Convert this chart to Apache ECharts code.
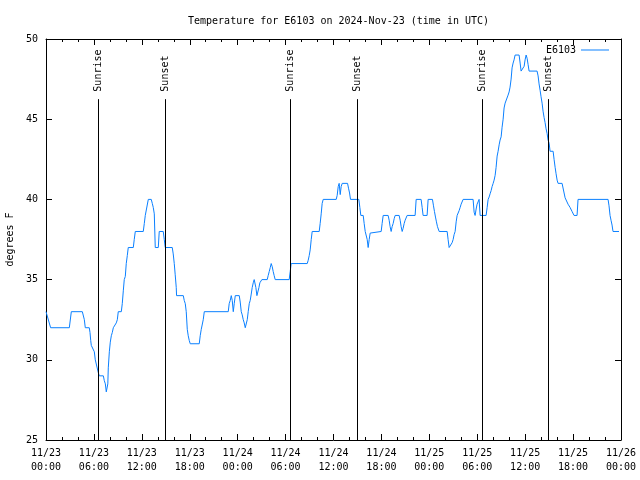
<!DOCTYPE html>
<html><head><meta charset="utf-8">
<script src="https://cdn.jsdelivr.net/npm/echarts@6/dist/echarts.min.js"></script>
<style>html,body{margin:0;padding:0;background:#fff}#c{width:640px;height:480px}</style>
</head><body><div id="c"></div>
<script>
// hours since 2024-11-23 00:00 UTC
const hours = [
0, 0.58, 2.92, 3.17, 4.55, 4.80, 4.92, 5.42, 5.51, 5.6, 5.67, 5.92, 6.05, 6.17, 6.42, 6.55, 6.67, 7.18, 7.30, 7.43, 7.55, 7.68, 7.74, 7.80, 7.93, 8.05, 8.18, 8.30, 8.43, 8.68, 8.80, 8.93, 9.05, 9.43, 9.55, 9.68, 9.80, 9.93, 10.05, 10.18, 10.30, 10.93, 11.05, 11.18, 12.18, 12.31, 12.43, 12.68, 12.81, 13.18, 13.31, 13.43, 13.56, 13.68, 14.06, 14.18, 14.68, 14.81, 14.93, 15.81, 15.93, 16.06, 16.18, 16.31, 16.35, 17.19, 17.31, 17.44, 17.56, 17.69, 17.81, 17.94, 18.06, 19.19, 19.31, 19.44, 19.57, 19.69, 19.82,
22.82, 22.94, 23.07, 23.2, 23.32, 23.45, 23.57, 23.7, 24.2, 24.32, 24.45, 24.57, 24.7, 24.82, 24.95, 25.07, 25.2, 25.32, 25.45, 25.57, 25.7, 25.82, 25.95, 26.07, 26.2, 26.28, 26.41, 26.53, 26.66, 26.78, 27.03, 27.7, 27.82, 27.95, 28.08, 28.2, 28.33, 28.45, 28.57, 28.7, 30.45, 30.58, 30.7,
32.71, 32.83, 32.96, 33.08, 33.21, 33.33, 34.21, 34.33, 34.46, 34.58, 34.71, 36.34, 36.46, 36.59, 36.71, 36.84, 36.96, 37.09, 37.76, 37.88, 38.01, 38.13, 39.17, 39.3, 39.42, 39.72, 39.84, 39.97, 40.09, 40.22, 40.34, 40.47, 40.59, 40.72, 41.97, 42.09, 42.22, 42.84, 42.97, 43.09, 43.22, 43.34, 43.47, 43.6, 43.72, 44.22, 44.35, 44.47, 44.6, 44.72, 44.85, 44.97, 45.22, 46.22, 46.35, 46.97, 47.1, 47.22, 47.72, 47.85, 48.39, 48.52, 48.64, 48.77, 48.89, 49.02, 49.23, 50.23,
50.35, 50.48, 50.73, 50.85, 50.98, 51.1, 51.23, 51.36, 51.48, 51.61, 51.73, 51.86, 51.98, 52.23, 53.48, 53.61, 53.73, 53.86, 53.98, 54.23, 54.36, 55.11, 55.24, 55.36, 55.49, 55.61, 55.74, 55.86, 55.99, 56.11, 56.24, 56.36, 56.49, 56.61, 56.74, 56.86, 56.99, 57.11, 57.24, 57.36, 57.49, 57.74, 57.86, 57.99, 58.11, 58.24, 58.36, 58.49, 58.61, 58.74, 59.24, 59.37, 59.49, 59.74, 59.87, 59.99, 60.12, 60.24, 60.37, 60.49, 61.49, 61.62, 61.74, 61.87, 61.99, 62.12, 62.24, 62.37, 62.49, 62.62, 62.75, 62.87, 63.0, 63.12, 63.5, 63.62, 63.75, 63.87, 64.0, 64.12, 64.62, 65.0, 65.12, 65.37, 65.62, 65.87, 66.12, 66.5, 66.62, 70.38, 70.5, 70.63, 70.75, 70.88, 71.0, 71.75
];
const tempF = [
33, 32, 32, 33, 33, 32.5, 32, 32, 31.7, 31.2, 30.9, 30.9, 30.5, 30, 30, 29.2, 29, 29, 28.7, 28.5, 28, 28, 28.5, 29.5, 30.5, 31.1, 31.5, 31.7, 32, 32, 32.3, 32.5, 33, 33, 33.5, 34.3, 35, 35.2, 36, 36.5, 37, 37, 37.5, 38, 38, 38.5, 39, 39, 40, 40, 39.75, 39.5, 39.1, 37, 37, 38, 38, 37.5, 37, 37, 36.6, 36, 35.3, 34.5, 34, 34, 33.7, 33.5, 33, 31.9, 31.5, 31.2, 31, 31, 31.5, 31.9, 32, 32.5, 33,
33, 33.5, 33.7, 34, 33.7, 33, 33.5, 34, 34, 33.6, 33, 32.8, 32.5, 32.3, 32, 32, 32.5, 33, 33.5, 33.7, 34.1, 34.5, 34.8, 35, 35, 34.5, 34, 34, 34.5, 34.8, 35, 35, 35.25, 35.5, 35.75, 36, 35.8, 35.5, 35.25, 35, 35, 35.5, 36,
36, 36.2, 36.5, 36.85, 37.5, 38, 38, 38.5, 39.1, 39.75, 40, 40, 40.25, 40.8, 41, 40.3, 40.8, 41, 41, 40.7, 40.4, 40, 40, 39.5, 39, 39, 38.5, 38, 38, 37.5, 37, 37.5, 37.9, 38, 38, 38.5, 39, 39, 38.7, 38.3, 38, 38.3, 38.5, 38.8, 39, 39, 38.7, 38.3, 38, 38.2, 38.5, 38.7, 39, 39, 40, 40, 39.5, 39, 39, 40, 40, 39.6, 39.25, 38.9, 38.6, 38.3, 38, 38,
37.5, 37, 37, 37.3, 37.5, 37.8, 38, 38.6, 39, 39, 39.3, 39.5, 39.7, 40, 40, 39.2, 39, 39.4, 39.7, 40, 39, 39, 39.5, 40, 40.15, 40.35, 40.55, 40.8, 41, 41.2, 41.5, 42, 42.7, 43, 43.4, 43.7, 43.9, 44.5, 45, 45.7, 46, 46.1, 46.5, 46.7, 47, 47.5, 48.2, 48.5, 48.7, 49, 49, 48.5, 48, 48, 48.3, 48.7, 49, 48.8, 48.4, 48, 48, 47.7, 47.2, 46.8, 46.4, 46, 45.5, 45.1, 44.8, 44.4, 44.1, 43.7, 43.5, 43, 43, 42.5, 42, 41.6, 41.2, 41, 41, 40.1, 40, 39.7, 39.5, 39.25, 39, 39, 40, 40, 39.6, 39, 38.7, 38.4, 38, 38
];
const eventHours = [6.55, 14.92, 30.6, 38.95, 54.6, 62.88];
const eventNames = ['Sunrise', 'Sunset', 'Sunrise', 'Sunset', 'Sunrise', 'Sunset'];
const xTickLabels = ['11/23\n00:00', '11/23\n06:00', '11/23\n12:00', '11/23\n18:00', '11/24\n00:00', '11/24\n06:00', '11/24\n12:00', '11/24\n18:00', '11/25\n00:00', '11/25\n06:00', '11/25\n12:00', '11/25\n18:00', '11/26\n00:00'];
const eventLineTop = 46.25;

const FONT = 'DejaVu Sans Mono';
const chart = echarts.init(document.getElementById('c'), null, {renderer: 'canvas'});
const seriesData = hours.map((h, i) => [h, tempF[i]]);
const axisCommon = {
  type: 'value', min: 0, max: 72, interval: 6,
  axisLine: {show: true, onZero: false, lineStyle: {color: '#000', width: 1}},
  axisTick: {show: true, inside: true, length: 6, lineStyle: {color: '#000'}},
  minorTick: {show: true, splitNumber: 3, length: 3, lineStyle: {color: '#000'}},
  splitLine: {show: false}
};
const yCommon = {
  type: 'value', min: 25, max: 50, interval: 5,
  axisLine: {show: true, onZero: false, lineStyle: {color: '#000', width: 1}},
  axisTick: {show: true, inside: true, length: 6, lineStyle: {color: '#000'}},
  splitLine: {show: false}
};
chart.setOption({
  animation: false,
  backgroundColor: '#fff',
  title: {
    text: 'Temperature for E6103 on 2024-Nov-23 (time in UTC)',
    left: 183, top: 11,
    textStyle: {fontFamily: FONT, fontSize: 10, fontWeight: 'normal', color: '#000'}
  },
  legend: {
    data: [{name: 'E6103', icon: 'rect'}], right: 31, top: 45, padding: 0, itemWidth: 28, itemHeight: 1, align: 'right',
    textStyle: {fontFamily: FONT, fontSize: 10, color: '#000'}
  },
  grid: {left: 46, right: 19, top: 39, bottom: 40, containLabel: false, outerBoundsMode: 'none'},
  xAxis: [
    Object.assign({}, axisCommon, {
      position: 'bottom',
      axisLabel: {show: true, margin: 6, fontFamily: FONT, fontSize: 10, color: '#000', lineHeight: 14,
        formatter: v => xTickLabels[Math.round(v / 6)]}
    }),
    Object.assign({}, axisCommon, {position: 'top', axisLabel: {show: false}})
  ],
  yAxis: [
    Object.assign({}, yCommon, {
      position: 'left', name: 'degrees F', nameLocation: 'middle', nameGap: 31, nameRotate: 90,
      nameTextStyle: {fontFamily: FONT, fontSize: 10, color: '#000'},
      axisLabel: {show: true, margin: 8, fontFamily: FONT, fontSize: 10, color: '#000'}
    }),
    Object.assign({}, yCommon, {position: 'right', axisLabel: {show: false}})
  ],
  series: [
    {
      name: 'E6103', type: 'line', data: seriesData, symbol: 'none', showSymbol: false,
      color: '#0a80ff', lineStyle: {width: 1, color: '#0a80ff'},
      markLine: {
        silent: true, symbol: ['none', 'none'], animation: false,
        lineStyle: {color: '#000', width: 1, type: 'solid'},
        label: {show: false},
        data: eventHours.map(h => [{coord: [h, 25]}, {coord: [h, eventLineTop]}])
      }
    },
    {
      name: 'events', type: 'scatter', data: eventHours.map(h => [h, eventLineTop]),
      symbolSize: 1, itemStyle: {color: 'transparent'}, silent: true,
      label: {show: true, position: 'top', distance: 7, rotate: 90, align: 'left', verticalAlign: 'middle',
        fontFamily: FONT, fontSize: 10, color: '#000', opacity: 1, textBorderWidth: 0,
        formatter: p => eventNames[p.dataIndex]}
    }
  ]
});
</script></body></html>
